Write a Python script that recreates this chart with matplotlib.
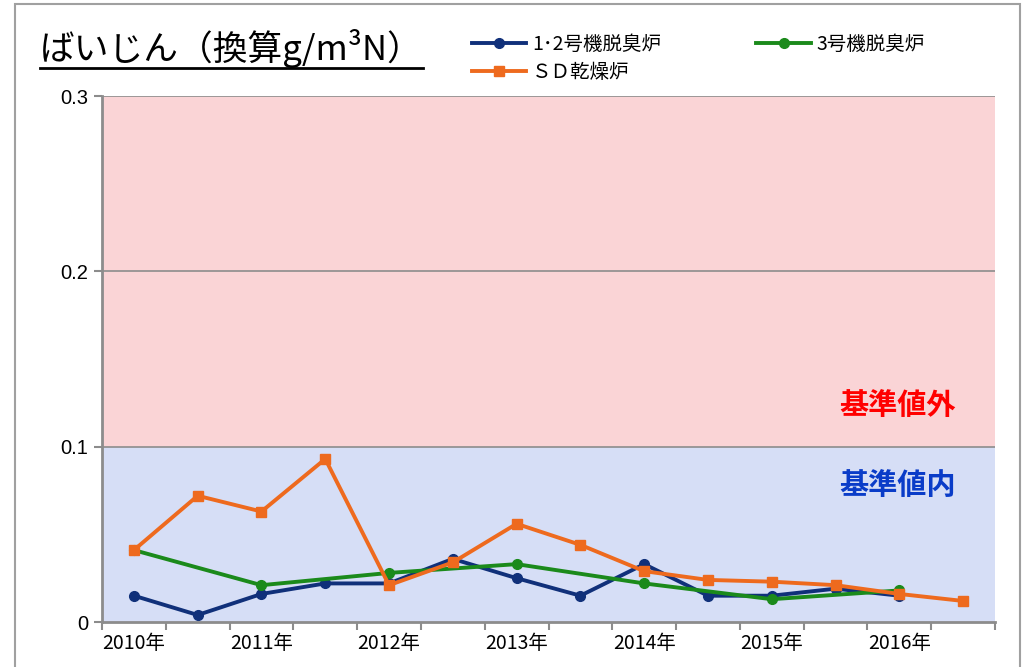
import matplotlib
matplotlib.use("Agg")
import matplotlib.pyplot as plt
from matplotlib.lines import Line2D
from matplotlib.patches import Rectangle
import numpy as np

plt.rcParams['font.family'] = ['Noto Sans CJK JP', 'DejaVu Sans']

# データ（半年ごと、2010年〜2016年後半）
years = ["2010年", "2011年", "2012年", "2013年", "2014年", "2015年", "2016年"]
n_periods = 14
ro12 = [0.015, 0.004, 0.016, 0.022, 0.022, 0.036, 0.025, 0.015, 0.033, 0.015, 0.015, 0.019, 0.015, None]
ro3 = [0.041, None, 0.021, None, 0.028, None, 0.033, None, 0.022, None, 0.013, None, 0.018, None]
sd = [0.041, 0.072, 0.063, 0.093, 0.021, 0.034, 0.056, 0.044, 0.029, 0.024, 0.023, 0.021, 0.016, 0.012]
limit = 0.1
ymax = 0.3

navy = '#10307a'
green = '#1b8a1b'
orange = '#ee6a1e'

fig = plt.figure(figsize=(10.26, 6.67), dpi=100)
ax = fig.add_axes([102/1026, 1 - 622/667, 893/1026, 526/667])

# 背景（基準値外／基準値内）
ax.axhspan(limit, ymax, color='#fad4d6', zorder=0, lw=0)
ax.axhspan(0, limit, color='#d6def6', zorder=0, lw=0)
for yv in [0.1, 0.2, 0.3]:
    ax.axhline(yv, color='#8c8c8c', lw=1.2, zorder=1)

def series(vals):
    xs = [i for i, v in enumerate(vals) if v is not None]
    ys = [v for v in vals if v is not None]
    return xs, ys

xs, ys = series(ro12)
l1, = ax.plot(xs, ys, color=navy, lw=2.8, marker='o', ms=7, label='1･2号機脱臭炉', zorder=3)
xs, ys = series(ro3)
l2, = ax.plot(xs, ys, color=green, lw=2.8, marker='o', ms=7, label='3号機脱臭炉', zorder=4)
xs, ys = series(sd)
l3, = ax.plot(xs, ys, color=orange, lw=2.8, marker='s', ms=7, label='ＳＤ乾燥炉', zorder=5)

ax.set_xlim(-0.5, n_periods - 0.5)
ax.set_ylim(0, ymax)
ax.set_yticks([0, 0.1, 0.2, 0.3])
ax.set_yticklabels(['0', '0.1', '0.2', '0.3'], fontsize=14.5, family=['Liberation Sans', 'DejaVu Sans'])
ax.set_xticks(np.arange(-0.5, n_periods, 1.0))
ax.set_xticklabels([])
ax.set_xticks(np.arange(0, n_periods, 2), minor=True)
ax.set_xticklabels(years, minor=True, fontsize=14)
ax.tick_params(axis='x', which='minor', length=0, pad=8)
ax.tick_params(axis='x', which='major', length=6, width=1.5, color='#8c8c8c')
ax.tick_params(axis='y', length=6, width=1.5, color='#8c8c8c', pad=4)
for s in ['top', 'right']:
    ax.spines[s].set_visible(False)
for s in ['left', 'bottom']:
    ax.spines[s].set_color('#8c8c8c')
    ax.spines[s].set_linewidth(2)

ax.text(898/1026, 1 - 405/667, '基準値外', transform=fig.transFigure, color='#ff0000',
        fontsize=21, fontweight='bold', ha='center', va='center')
ax.text(898/1026, 1 - 485/667, '基準値内', transform=fig.transFigure, color='#0a3cc8',
        fontsize=21, fontweight='bold', ha='center', va='center')

# タイトル（下線付き）
title = fig.text(40/1026, 1 - 49/667, 'ばいじん（換算g/m³N）', fontsize=25, ha='left', va='center')
fig.canvas.draw()
bb = title.get_window_extent()
y_line = 1 - 68/667
fig.add_artist(Line2D([bb.x0 / fig.bbox.width, bb.x1 / fig.bbox.width], [y_line, y_line],
                      color='black', lw=2, transform=fig.transFigure))

fig.legend(handles=[l1, l3, l2], loc='upper left', bbox_to_anchor=(462/1026, 1 - 24/667),
           ncol=2, frameon=False, fontsize=14, handlelength=2.8, columnspacing=4.9,
           labelspacing=0.35, handletextpad=0.3, borderpad=0)

fig.add_artist(Rectangle((15/1026, -0.01), 1005/1026, 1.0 - 4/667 + 0.01, transform=fig.transFigure,
                         fill=False, edgecolor='#a0a0a0', lw=1.5))

fig.savefig('out.png', dpi=100)
